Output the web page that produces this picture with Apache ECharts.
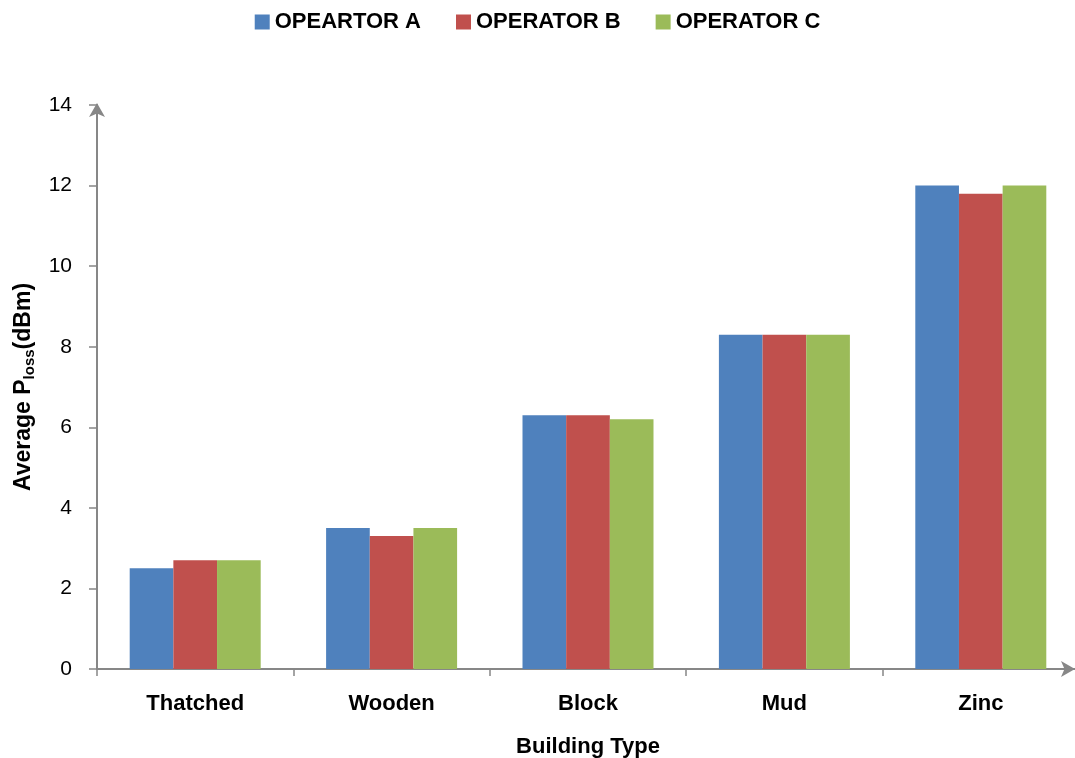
<!DOCTYPE html>
<html>
<head>
<meta charset="utf-8">
<script src="https://cdn.jsdelivr.net/npm/echarts@6/dist/echarts.min.js"></script>
<style>
  html, body { margin: 0; padding: 0; background: #fff; }
  #chart { width: 1075px; height: 758px; }
</style>
</head>
<body>
<div id="chart"></div>
<script>
// Building types along the category axis
const categories = ['Thatched', 'Wooden', 'Block', 'Mud', 'Zinc'];
// Average path loss per operator (dBm)
const operatorA = [2.5, 3.5, 6.3, 8.3, 12.0];
const operatorB = [2.7, 3.3, 6.3, 8.3, 11.8];
const operatorC = [2.7, 3.5, 6.2, 8.3, 12.0];
const seriesNames = ['OPEARTOR A', 'OPERATOR B', 'OPERATOR C'];
const yTicks = { min: 0, max: 14, interval: 2 };

const FONT = '"Liberation Sans", Arial, sans-serif';
const AXIS_GREY = '#878787';
const colors = ['#4F81BD', '#C0504D', '#9BBB59'];

const chart = echarts.init(document.getElementById('chart'), null, { renderer: 'canvas' });

const values = [operatorA, operatorB, operatorC];

chart.setOption({
  animation: false,
  color: colors,
  textStyle: { fontFamily: FONT },
  legend: {
    top: 6,
    left: 'center',
    itemWidth: 15,
    itemHeight: 15,
    itemGap: 35,
    icon: 'rect',
    textStyle: { fontFamily: FONT, fontSize: 22, fontWeight: 'bold', color: '#000' },
    data: seriesNames
  },
  grid: { left: 97, top: 105, width: 982, bottom: 89, containLabel: false, outerBoundsMode: 'none' },
  xAxis: {
    type: 'category',
    data: categories,
    boundaryGap: true,
    name: 'Building Type',
    nameLocation: 'middle',
    nameGap: 67,
    nameTextStyle: { fontFamily: FONT, fontSize: 22, fontWeight: 'bold', color: '#000' },
    axisLine: {
      show: true,
      symbol: ['none', 'arrow'],
      symbolSize: [12, 14],
      symbolOffset: [0, -4],
      lineStyle: { color: AXIS_GREY, width: 2 }
    },
    axisTick: { show: true, inside: false, length: 7, lineStyle: { color: AXIS_GREY, width: 1.5 } },
    axisLabel: { margin: 24, fontFamily: FONT, fontSize: 22, fontWeight: 'bold', color: '#000' },
    splitLine: { show: false }
  },
  yAxis: {
    type: 'value',
    min: yTicks.min,
    max: yTicks.max,
    interval: yTicks.interval,
    name: '{t|Average P}{s|loss}{t|(dBm)}',
    nameLocation: 'middle',
    nameRotate: 90,
    nameGap: 60,
    nameTextStyle: {
      rich: {
        t: { fontFamily: FONT, fontSize: 23, fontWeight: 'bold', color: '#000' },
        s: { fontFamily: FONT, fontSize: 15, fontWeight: 'bold', color: '#000', verticalAlign: 'bottom', padding: [12, 0, 0, 0] }
      }
    },
    axisLine: {
      show: true,
      symbol: ['none', 'arrow'],
      symbolSize: [12, 14],
      symbolOffset: [0, 2],
      lineStyle: { color: AXIS_GREY, width: 2 }
    },
    axisTick: { show: true, inside: false, length: 8, lineStyle: { color: AXIS_GREY, width: 1.5 } },
    axisLabel: { margin: 25, fontFamily: FONT, fontSize: 21, color: '#000' },
    splitLine: { show: false }
  },
  series: seriesNames.map((name, i) => ({
    name: name,
    type: 'bar',
    data: values[i],
    barGap: '0%',
    barCategoryGap: '33.3%',
    itemStyle: { color: colors[i] }
  }))
});
</script>
</body>
</html>
